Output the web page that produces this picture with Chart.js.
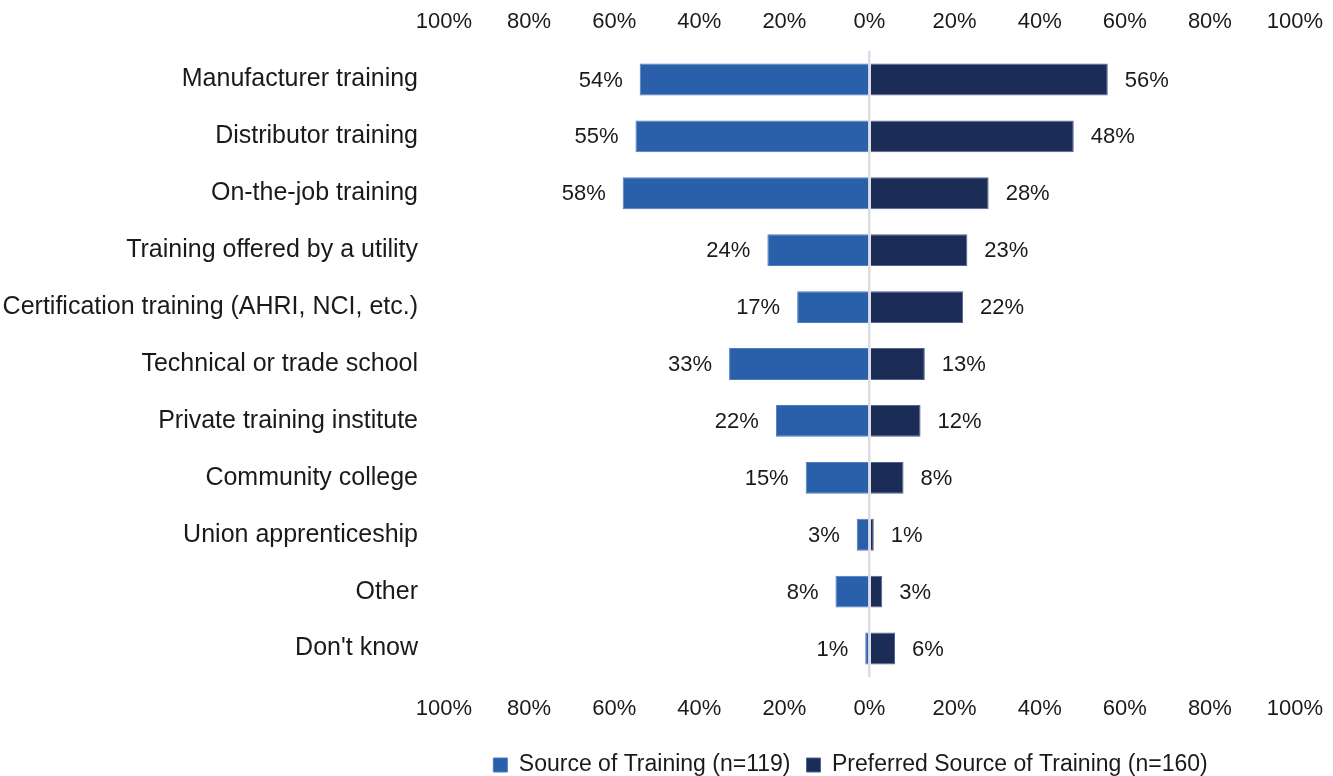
<!DOCTYPE html>
<html>
<head>
<meta charset="utf-8">
<script src="https://cdn.jsdelivr.net/npm/chart.js@4/dist/chart.umd.min.js"></script>
<style>
  html, body { margin: 0; padding: 0; background: #fff; }
  #wrap { width: 1333px; height: 776px; position: relative; }
</style>
</head>
<body>
<div id="wrap"><canvas id="myChart"></canvas></div>
<script>
// categories, top to bottom
const categories = [
  "Manufacturer training",
  "Distributor training",
  "On-the-job training",
  "Training offered by a utility",
  "Certification training (AHRI, NCI, etc.)",
  "Technical or trade school",
  "Private training institute",
  "Community college",
  "Union apprenticeship",
  "Other",
  "Don't know"
];
// percent values
const sourceOfTraining = [54, 55, 58, 24, 17, 33, 22, 15, 3, 8, 1];
const preferredSource = [56, 48, 28, 23, 22, 13, 12, 8, 1, 3, 6];
const seriesNames = ["Source of Training (n=119)", "Preferred Source of Training (n=160)"];
const tickValues = [-100, -80, -60, -40, -20, 0, 20, 40, 60, 80, 100];

const FONT = "'Liberation Sans', Arial, sans-serif";

// draws the % next to each bar end
const barLabels = {
  id: "barLabels",
  afterDatasetsDraw(chart) {
    const ctx = chart.ctx;
    ctx.save();
    ctx.font = "22px " + FONT;
    ctx.fillStyle = "#1a1a1a";
    ctx.textBaseline = "middle";
    chart.data.datasets.forEach((ds, i) => {
      const meta = chart.getDatasetMeta(i);
      meta.data.forEach((bar, j) => {
        const v = ds.data[j];
        const txt = Math.abs(v) + "%";
        if (v < 0) {
          ctx.textAlign = "right";
          ctx.fillText(txt, bar.x - 17, bar.y + 1);
        } else {
          ctx.textAlign = "left";
          ctx.fillText(txt, bar.x + 17, bar.y + 1);
        }
      });
    });
    ctx.restore();
  }
};

// legend sits a bit left of the plot centre in the original
const legendShift = {
  id: "legendShift",
  afterLayout(chart) {
    if (chart.legend) {
      chart.legend.left -= 19;
      chart.legend.right -= 19;
    }
  }
};

const tickCb = (v) => Math.abs(v) + "%";
const noSidePad = (s) => { s.paddingLeft = 0; s.paddingRight = 0; };

new Chart(document.getElementById("myChart").getContext("2d"), {
  type: "bar",
  data: {
    labels: categories,
    datasets: [
      {
        label: seriesNames[0],
        data: sourceOfTraining.map(v => -v),
        backgroundColor: "#2A5FAA",
        borderColor: "#4C7CC2",
        borderWidth: 1,
        barPercentage: 0.56,
        categoryPercentage: 1
      },
      {
        label: seriesNames[1],
        data: preferredSource,
        backgroundColor: "#1B2C57",
        borderColor: "#51648F",
        borderWidth: 1,
        barPercentage: 0.56,
        categoryPercentage: 1
      }
    ]
  },
  options: {
    indexAxis: "y",
    responsive: true,
    maintainAspectRatio: false,
    animation: false,
    layout: { padding: { top: 0, right: 38, bottom: -10.5, left: 0 } },
    scales: {
      x: {
        position: "top",
        stacked: true,
        z: 1,
        min: -100,
        max: 100,
        afterBuildTicks: (s) => { s.ticks = tickValues.map(v => ({ value: v })); },
        afterFit: (s) => { s.height = 51; noSidePad(s); },
        ticks: { callback: tickCb, font: { family: FONT, size: 22 }, color: "#1a1a1a", padding: 15.5, maxRotation: 0 },
        grid: {
          drawTicks: false,
          lineWidth: 2.5,
          color: (c) => (c.tick && c.tick.value === 0 ? "#dcdce4" : "rgba(0,0,0,0)")
        },
        border: { display: false }
      },
      x2: {
        position: "bottom",
        min: -100,
        max: 100,
        afterBuildTicks: (s) => { s.ticks = tickValues.map(v => ({ value: v })); },
        afterFit: (s) => { s.height = 60.5; noSidePad(s); },
        ticks: { callback: tickCb, font: { family: FONT, size: 22 }, color: "#1a1a1a", padding: 18.5, maxRotation: 0 },
        grid: { display: false, drawTicks: false },
        border: { display: false }
      },
      y: {
        stacked: true,
        ticks: { font: { family: FONT, size: 25 }, color: "#1a1a1a", padding: 26 },
        grid: { display: false, drawTicks: false },
        border: { display: false },
        afterFit: (s) => { s.width = 444; }
      }
    },
    plugins: {
      legend: {
        position: "bottom",
        fullSize: false,
        labels: {
          font: { family: FONT, size: 23 },
          color: "#1a1a1a",
          boxWidth: 14,
          boxHeight: 14,
          padding: 16
        }
      },
      tooltip: { enabled: false }
    }
  },
  plugins: [barLabels, legendShift]
});
</script>
</body>
</html>
